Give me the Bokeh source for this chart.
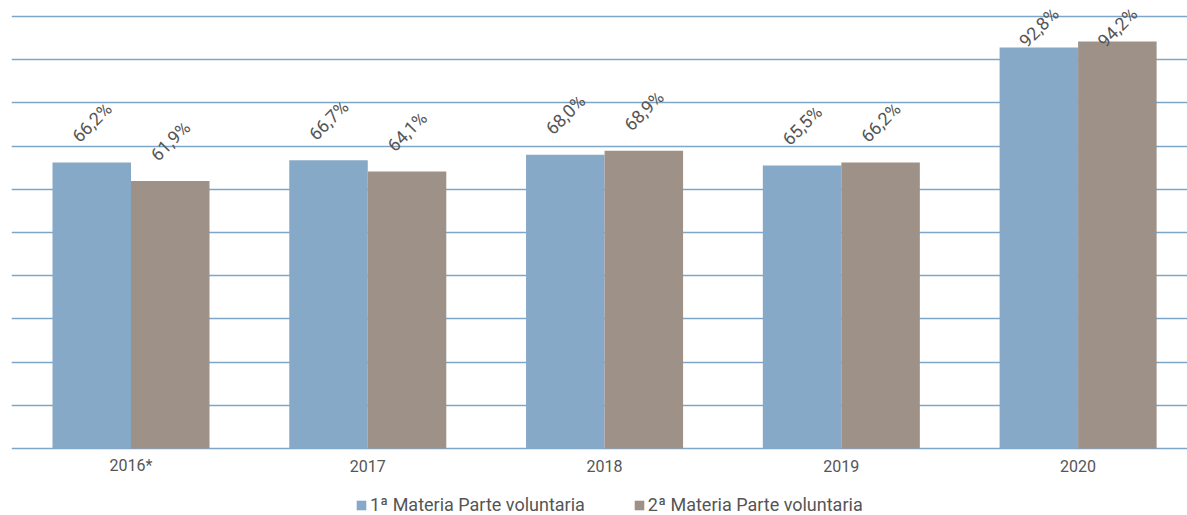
from bokeh.plotting import figure
from bokeh.models import ColumnDataSource, Range1d, FixedTicker, LabelSet, Legend, LegendItem
from bokeh.core.properties import value
from bokeh.transform import dodge
from bokeh.embed import file_html
from bokeh.resources import INLINE

years = ["2016*", "2017", "2018", "2019", "2020"]
materia1 = [66.2, 66.7, 68.0, 65.5, 92.8]
materia2 = [61.9, 64.1, 68.9, 66.2, 94.2]
series_names = ["1ª Materia Parte voluntaria", "2ª Materia Parte voluntaria"]
colors = ["#86A9C8", "#9E9288"]

FONT = "Roboto"
TEXT = "#555555"
idx = list(range(len(years)))
fmt = lambda v: ("%.1f%%" % v).replace(".", ",")

src = ColumnDataSource(dict(
    x=idx, yr=years, zero=[0] * len(years), m1=materia1, m2=materia2,
    l1=[fmt(v) for v in materia1], l2=[fmt(v) for v in materia2],
    y1=[min(v + 9.3, 97.5) for v in materia1],
    y2=[min(v + 9.3, 97.5) for v in materia2],
))

PX = 4.32  # pixels per percentage point
p = figure(width=1187, height=515, frame_width=1176, frame_height=515,
           output_backend="svg", toolbar_location=None,
           x_range=Range1d(-0.5047, 4.462), y_range=Range1d(-67 / PX, 448 / PX),
           min_border_left=11, min_border_right=0, min_border_top=0, min_border_bottom=0)
p.outline_line_color = None
p.background_fill_color = "white"
p.border_fill_color = "white"
p.xaxis.visible = False
p.yaxis.visible = False

p.ygrid.ticker = FixedTicker(ticks=list(range(0, 101, 10)))
p.ygrid.grid_line_color = "#7EA6CB"
p.ygrid.grid_line_width = 1.6
p.xgrid.visible = False

w = 0.3316
r1 = p.vbar(x=dodge("x", -w / 2, range=p.x_range), top="m1", width=w, source=src,
            fill_color=colors[0], line_color=None)
r2 = p.vbar(x=dodge("x", w / 2, range=p.x_range), top="m2", width=w, source=src,
            fill_color=colors[1], line_color=None)

for ycol, lcol, off in [("y1", "l1", -w / 2), ("y2", "l2", w / 2)]:
    ls = LabelSet(x=dodge("x", off, range=p.x_range), y=ycol, text=lcol, source=src,
                  angle=45, angle_units="deg", text_align="center", text_baseline="middle",
                  text_font=value(FONT), text_font_size="18px", text_color=TEXT, level="overlay")
    p.add_layout(ls)

year_labels = LabelSet(x="x", y="zero", text="yr", source=src, y_offset=-17,
                       text_align="center", text_baseline="middle",
                       text_font=value(FONT), text_font_size="16px", text_color=TEXT)
p.add_layout(year_labels)

legend = Legend(items=[LegendItem(label=series_names[0], renderers=[r1]),
                       LegendItem(label=series_names[1], renderers=[r2])],
                orientation="horizontal", location=(344, 0),
                label_text_font=FONT, label_text_font_size="18px", label_text_color=TEXT,
                glyph_width=12, glyph_height=12, spacing=48, padding=0, margin=0,
                border_line_color=None, background_fill_alpha=0, label_standoff=3)
p.add_layout(legend, "center")

open("out.html", "w").write(file_html(p, INLINE))
